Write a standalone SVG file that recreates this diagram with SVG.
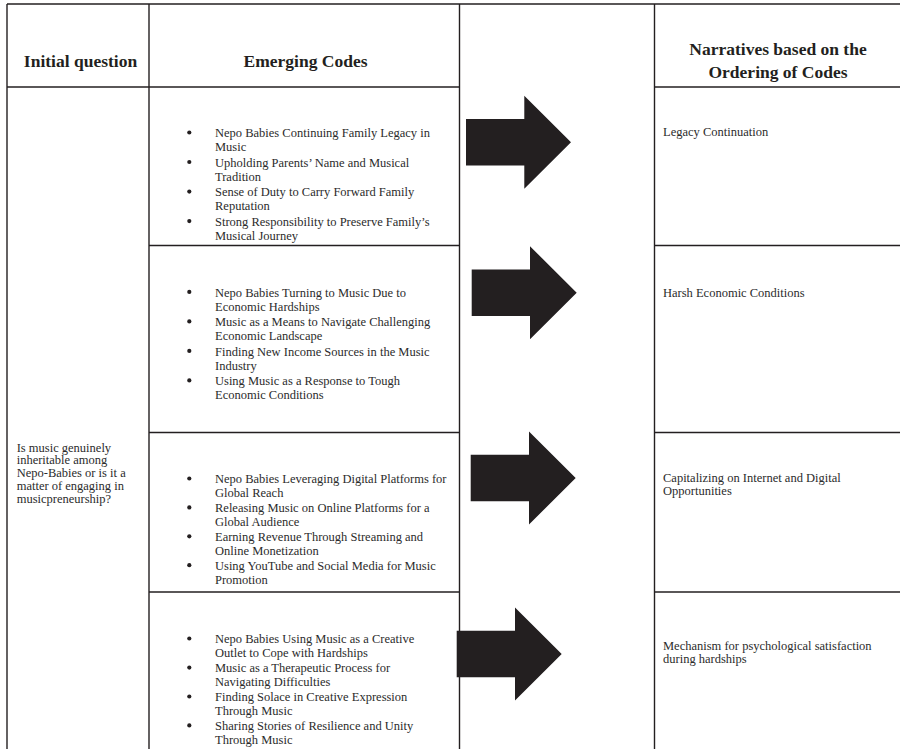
<svg xmlns="http://www.w3.org/2000/svg" width="900" height="749" viewBox="0 0 900 749">
  <style>
    .ln { stroke: #231f20; stroke-width: 1.4; fill: none; }
    .hd { font-family: "Liberation Serif", "Times New Roman", serif; font-weight: bold; font-size: 17.5px; fill: #231f20; text-anchor: middle; }
    .tx { font-family: "Liberation Serif", "Times New Roman", serif; font-size: 12.5px; fill: #2b2b2b; }
    .bl { fill: #231f20; }
    .ar { fill: #231f20; }
  </style>
  <defs>
    <path id="arrow" d="M0,-23.3 H58.3 V-46.5 L105,0 L58.3,46.5 V23.3 H0 Z"/>
  </defs>
  <rect width="900" height="749" fill="#ffffff"/>

  <g id="grid">
    <line class="ln" x1="7" y1="4" x2="900" y2="4"/>
    <line class="ln" x1="7" y1="4" x2="7" y2="749"/>
    <line class="ln" x1="149" y1="4" x2="149" y2="749"/>
    <line class="ln" x1="459.5" y1="4" x2="459.5" y2="749"/>
    <line class="ln" x1="654.5" y1="4" x2="654.5" y2="749"/>
    <line class="ln" x1="7" y1="87" x2="459.5" y2="87" stroke-width="1.8"/>
    <line class="ln" x1="654.5" y1="87" x2="900" y2="87" stroke-width="1.8"/>
    <line class="ln" x1="149" y1="245.5" x2="459.5" y2="245.5" stroke-width="1.8"/>
    <line class="ln" x1="654.5" y1="245.5" x2="900" y2="245.5" stroke-width="1.8"/>
    <line class="ln" x1="149" y1="432.5" x2="459.5" y2="432.5"/>
    <line class="ln" x1="654.5" y1="432.5" x2="900" y2="432.5"/>
    <line class="ln" x1="149" y1="592" x2="459.5" y2="592"/>
    <line class="ln" x1="654.5" y1="592" x2="900" y2="592"/>
  </g>

  <g id="header-initial">
    <text class="hd" x="80.5" y="66.5">Initial question</text>
  </g>
  <g id="header-codes">
    <text class="hd" x="305.5" y="66.5">Emerging Codes</text>
  </g>
  <g id="header-narratives">
    <text class="hd" x="778" y="55">Narratives based on the</text>
    <text class="hd" x="778" y="77.5">Ordering of Codes</text>
  </g>

  <g id="question">
    <text class="tx" x="16.7" y="451.5">Is music genuinely</text>
    <text class="tx" x="16.7" y="464.3">inheritable among</text>
    <text class="tx" x="16.7" y="477.1">Nepo-Babies or is it a</text>
    <text class="tx" x="16.7" y="489.9">matter of engaging in</text>
    <text class="tx" x="16.7" y="502.7">musicpreneurship?</text>
  </g>

  <g id="codes-1">
    <circle class="bl" cx="189.3" cy="132.5" r="2.1"/>
    <circle class="bl" cx="189.3" cy="162" r="2.1"/>
    <circle class="bl" cx="189.3" cy="191.6" r="2.1"/>
    <circle class="bl" cx="189.3" cy="221.1" r="2.1"/>
    <text class="tx" x="215" y="137.3">Nepo Babies Continuing Family Legacy in</text>
    <text class="tx" x="215" y="151.1">Music</text>
    <text class="tx" x="215" y="166.8">Upholding Parents’ Name and Musical</text>
    <text class="tx" x="215" y="180.6">Tradition</text>
    <text class="tx" x="215" y="196.3">Sense of Duty to Carry Forward Family</text>
    <text class="tx" x="215" y="210.1">Reputation</text>
    <text class="tx" x="215" y="225.8">Strong Responsibility to Preserve Family’s</text>
    <text class="tx" x="215" y="239.6">Musical Journey</text>
  </g>

  <g id="codes-2">
    <circle class="bl" cx="189.3" cy="291.9" r="2.1"/>
    <circle class="bl" cx="189.3" cy="321.4" r="2.1"/>
    <circle class="bl" cx="189.3" cy="350.9" r="2.1"/>
    <circle class="bl" cx="189.3" cy="380.4" r="2.1"/>
    <text class="tx" x="215" y="296.7">Nepo Babies Turning to Music Due to</text>
    <text class="tx" x="215" y="310.5">Economic Hardships</text>
    <text class="tx" x="215" y="326.2">Music as a Means to Navigate Challenging</text>
    <text class="tx" x="215" y="340">Economic Landscape</text>
    <text class="tx" x="215" y="355.7">Finding New Income Sources in the Music</text>
    <text class="tx" x="215" y="369.5">Industry</text>
    <text class="tx" x="215" y="385.2">Using Music as a Response to Tough</text>
    <text class="tx" x="215" y="399">Economic Conditions</text>
  </g>

  <g id="codes-3">
    <circle class="bl" cx="189.3" cy="478.5" r="2.1"/>
    <circle class="bl" cx="189.3" cy="507.4" r="2.1"/>
    <circle class="bl" cx="189.3" cy="536.3" r="2.1"/>
    <circle class="bl" cx="189.3" cy="565.2" r="2.1"/>
    <text class="tx" x="215" y="483.3">Nepo Babies Leveraging Digital Platforms for</text>
    <text class="tx" x="215" y="497.1">Global Reach</text>
    <text class="tx" x="215" y="512.2">Releasing Music on Online Platforms for a</text>
    <text class="tx" x="215" y="526">Global Audience</text>
    <text class="tx" x="215" y="541.1">Earning Revenue Through Streaming and</text>
    <text class="tx" x="215" y="554.9">Online Monetization</text>
    <text class="tx" x="215" y="570">Using YouTube and Social Media for Music</text>
    <text class="tx" x="215" y="583.8">Promotion</text>
  </g>

  <g id="codes-4">
    <circle class="bl" cx="189.3" cy="638.5" r="2.1"/>
    <circle class="bl" cx="189.3" cy="667.6" r="2.1"/>
    <circle class="bl" cx="189.3" cy="696.5" r="2.1"/>
    <circle class="bl" cx="189.3" cy="725.4" r="2.1"/>
    <text class="tx" x="215" y="643.3">Nepo Babies Using Music as a Creative</text>
    <text class="tx" x="215" y="657.1">Outlet to Cope with Hardships</text>
    <text class="tx" x="215" y="672.4">Music as a Therapeutic Process for</text>
    <text class="tx" x="215" y="686.2">Navigating Difficulties</text>
    <text class="tx" x="215" y="701.3">Finding Solace in Creative Expression</text>
    <text class="tx" x="215" y="715.1">Through Music</text>
    <text class="tx" x="215" y="730.2">Sharing Stories of Resilience and Unity</text>
    <text class="tx" x="215" y="744">Through Music</text>
  </g>

  <g id="narrative-1">
    <text class="tx" x="663" y="136">Legacy Continuation</text>
  </g>
  <g id="narrative-2">
    <text class="tx" x="663" y="297">Harsh Economic Conditions</text>
  </g>
  <g id="narrative-3">
    <text class="tx" x="663" y="481.7">Capitalizing on Internet and Digital</text>
    <text class="tx" x="663" y="495.3">Opportunities</text>
  </g>
  <g id="narrative-4">
    <text class="tx" x="663" y="650">Mechanism for psychological satisfaction</text>
    <text class="tx" x="663" y="663.3">during hardships</text>
  </g>

  <g id="connectors">
    <use href="#arrow" class="ar" transform="translate(466,142.3)"/>
    <use href="#arrow" class="ar" transform="translate(471.7,292.7)"/>
    <use href="#arrow" class="ar" transform="translate(470.7,478)"/>
    <use href="#arrow" class="ar" transform="translate(456.7,654)"/>
  </g>
</svg>
